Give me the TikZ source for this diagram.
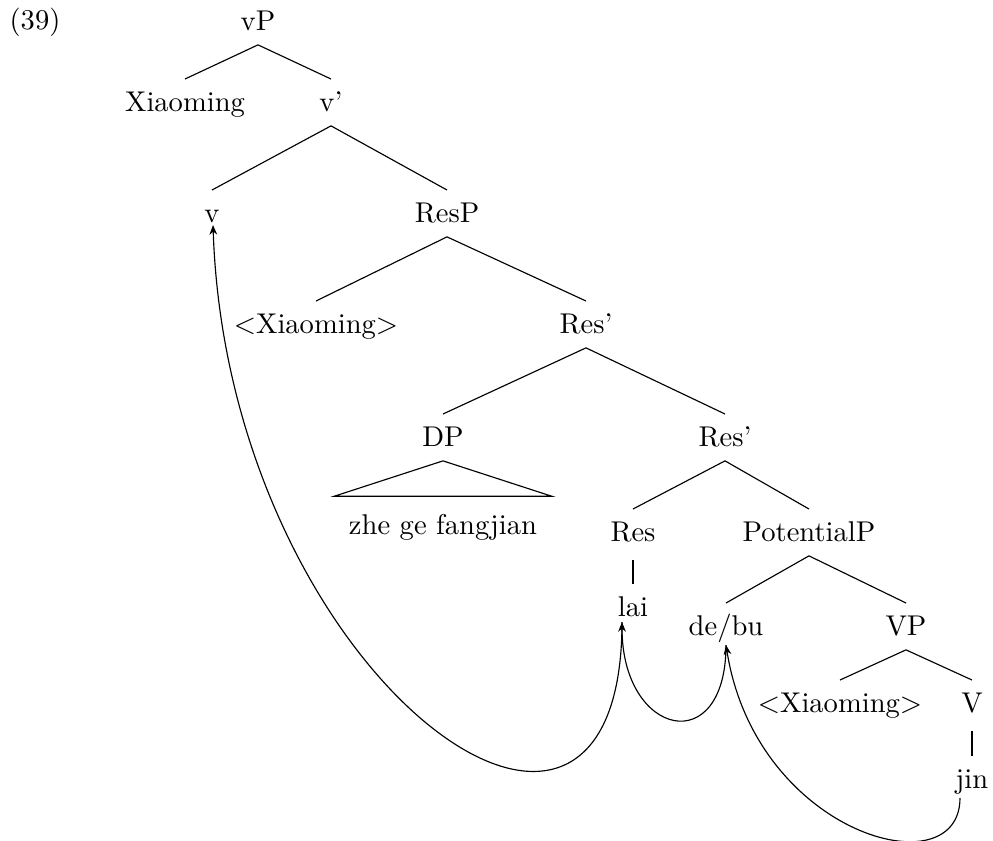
\documentclass[tikz,border=0pt]{standalone}
\usetikzlibrary{calc,arrows.meta}
\begin{document}
\begin{tikzpicture}[x=0.35pt,y=-0.35pt,
  lbl/.style={anchor=base,inner xsep=1pt,inner ysep=3pt,text height=8pt,text depth=2pt},
  branch/.style={draw,line width=0.4pt},
  unary/.style={draw,line width=0.4pt,shorten <=1.5pt},
  arr/.style={draw,line width=0.4pt,-{Stealth[length=3.4pt,width=2.7pt]}}]
\useasboundingbox (0,0) rectangle (993,840);
% labels
\node[anchor=base] (ex) at (35,29) {(39)};
\node[lbl] (vP) at (258,30) {vP};
\node[lbl] (xm) at (185,111) {Xiaoming};
\node[lbl] (vbar) at (331,111) {v'};
\node[lbl] (v) at (212,222) {v};
\node[lbl] (ResP) at (447,222) {ResP};
\node[lbl] (xm2) at (316,333) {$<$Xiaoming$>$};
\node[lbl] (Resbar) at (586,333) {Res'};
\node[lbl] (DP) at (443,446) {DP};
\node[lbl] (Resbarb) at (725,446) {Res'};
\node[anchor=base,inner xsep=5pt,inner ysep=5pt,text height=8pt,text depth=2pt] (zhe) at (443,534) {zhe ge fangjian};
\node[lbl] (Res) at (633,541) {Res};
\node[lbl] (PotP) at (809,541) {PotentialP};
\node[lbl] (lai) at (633,616) {lai};
\node[lbl] (debu) at (726,635) {de/bu};
\node[lbl] (VP) at (906,635) {VP};
\node[lbl] (xm3) at (840,712) {$<$Xiaoming$>$};
\node[lbl] (V) at (972,712) {V};
\node[lbl] (jin) at (972,788) {jin};
% branches
\draw[branch] (vP.south) -- (xm.north);
\draw[branch] (vP.south) -- (vbar.north);
\draw[branch] (vbar.south) -- (v.north);
\draw[branch] (vbar.south) -- (ResP.north);
\draw[branch] (ResP.south) -- (xm2.north);
\draw[branch] (ResP.south) -- (Resbar.north);
\draw[branch] (Resbar.south) -- (DP.north);
\draw[branch] (Resbar.south) -- (Resbarb.north);
\draw[branch] (DP.south) -- (zhe.north west) -- (zhe.north east) -- cycle;
\draw[branch] (Resbarb.south) -- (Res.north);
\draw[branch] (Resbarb.south) -- (PotP.north);
\draw[unary] (Res.south) -- (lai.north);
\draw[branch] (PotP.south) -- (debu.north);
\draw[branch] (PotP.south) -- (VP.north);
\draw[branch] (VP.south) -- (xm3.north);
\draw[branch] (VP.south) -- (V.north);
\draw[unary] (V.south) -- (jin.north);
% movement arrows
\coordinate (vA) at ($(v.base)+(1,3)$);
\coordinate (laiA) at ($(lai.base)+(-11,6)$);
\coordinate (debuA) at ($(debu.base)+(0,10)$);
\coordinate (jinA) at ($(jin.base)+(-12,10)$);
\draw[arr] (laiA) .. controls +(0,340) and +(15,450) .. (vA);
\draw[arr] (debuA) .. controls +(0,115) and +(0,115) .. (laiA);
\draw[arr] (jinA) .. controls +(0,92) and +(30,190) .. (debuA);
\end{tikzpicture}
\end{document}
